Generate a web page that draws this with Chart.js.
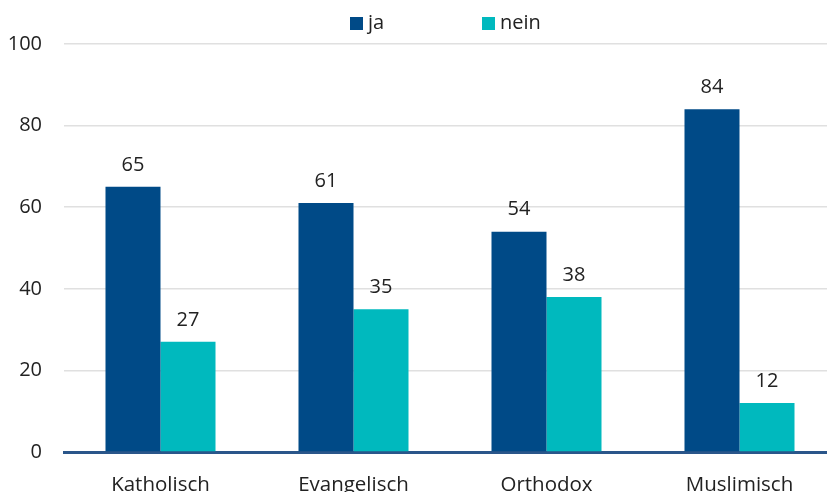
<!DOCTYPE html>
<html>
<head>
<meta charset="utf-8">
<script src="https://cdn.jsdelivr.net/npm/chart.js@4/dist/chart.umd.min.js"></script>
<style>
    html, body { margin: 0; padding: 0; background: #fff; overflow: hidden; width: 827px; height: 492px; }
    #wrap { position: relative; width: 836px; height: 494px; }
    .legend { position: absolute; top: 9px; font-family: "Open Sans", sans-serif; font-size: 20px; color: #222; line-height: 26px; }
    .legend span.box { display: inline-block; width: 13px; height: 13px; margin-right: 5px; vertical-align: -1px; }
</style>
</head>
<body>
<div id="wrap">
    <canvas id="chart" width="836" height="494"></canvas>
    <div class="legend" style="left:350px"><span class="box" style="background:#004A87"></span>ja</div>
    <div class="legend" style="left:482px"><span class="box" style="background:#00B9BE"></span>nein</div>
</div>
<script>
const categories = ['Katholisch', 'Evangelisch', 'Orthodox', 'Muslimisch'];
const jaValues = [65, 61, 54, 84];
const neinValues = [27, 35, 38, 12];
const yTicks = [0, 20, 40, 60, 80, 100];

const valueLabels = {
    id: 'valueLabels',
    afterDatasetsDraw(chart) {
        const ctx = chart.ctx;
        ctx.save();
        ctx.font = '20px "Open Sans"';
        ctx.fillStyle = '#222';
        ctx.textAlign = 'center';
        ctx.textBaseline = 'middle';
        chart.data.datasets.forEach(function (ds, i) {
            chart.getDatasetMeta(i).data.forEach(function (bar, j) {
                ctx.fillText(ds.data[j], bar.x, bar.y - 22);
            });
        });
        ctx.restore();
    }
};

const chartElement = document.getElementById('chart');
const myChart = new Chart(chartElement, {
    type: 'bar',
    data: {
        labels: categories,
        datasets: [{
            label: 'ja',
            data: jaValues,
            backgroundColor: '#004A87'
        }, {
            label: 'nein',
            data: neinValues,
            backgroundColor: '#00B9BE'
        }]
    },
    options: {
        responsive: false,
        animation: false,
        layout: { padding: { top: 44, left: 0, right: 0, bottom: 0 } },
        categoryPercentage: 0.57,
        barPercentage: 1,
        plugins: {
            legend: { display: false },
            tooltip: { enabled: false }
        },
        scales: {
            x: {
                grid: { display: false },
                border: { color: '#2A568A', width: 3 },
                afterFit(scale) { scale.height = 42; },
                ticks: {
                    color: '#222',
                    padding: 13,
                    font: { family: 'Open Sans', size: 20.5 }
                }
            },
            y: {
                min: 0,
                max: 100,
                afterBuildTicks(scale) {
                    scale.ticks = yTicks.map(v => ({ value: v }));
                },
                afterFit(scale) { scale.width = 64; },
                grid: { color: '#E0E0E0', lineWidth: 1.5, drawTicks: false },
                border: { display: false },
                ticks: {
                    color: '#222',
                    padding: 22,
                    font: { family: 'Open Sans', size: 20 }
                }
            }
        }
    },
    plugins: [valueLabels]
});
</script>
</body>
</html>
